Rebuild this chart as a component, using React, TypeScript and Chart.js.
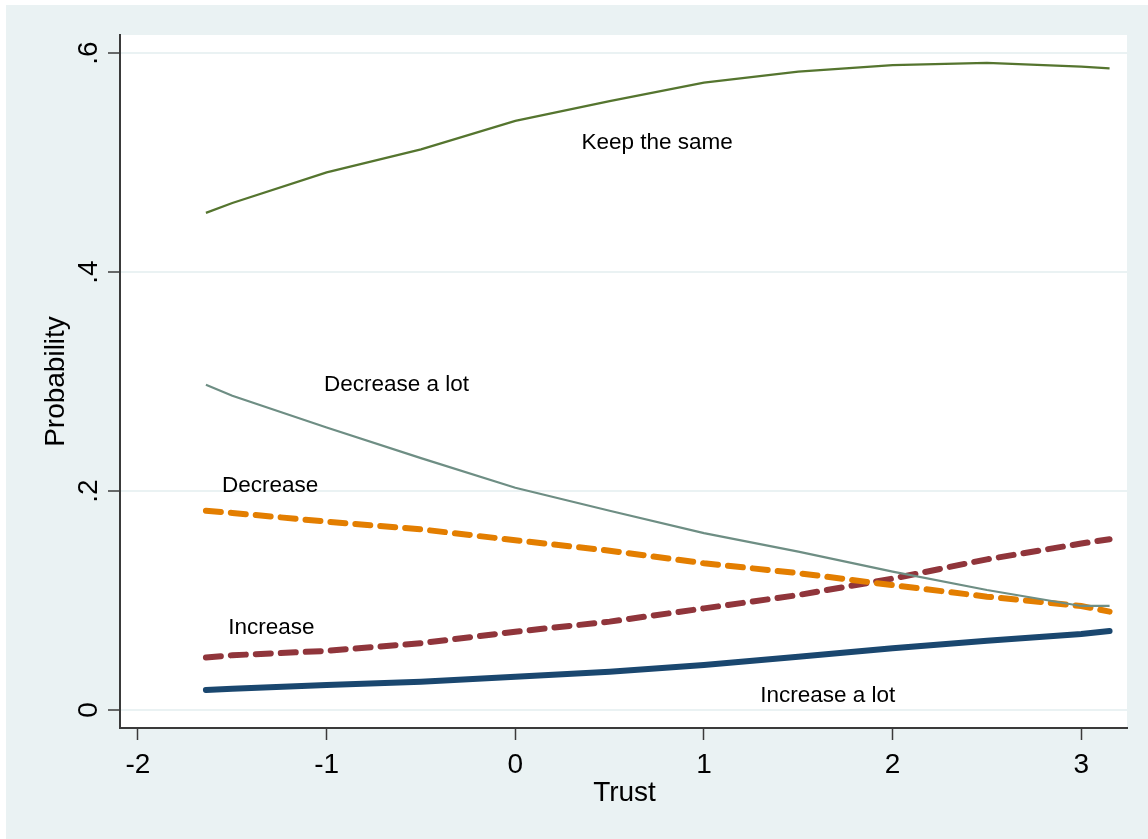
import React, { useEffect, useRef } from "react";
import { Chart, registerables } from "chart.js";

Chart.register(...registerables);

const trust = [-1.64, -1.5, -1, -0.5, 0, 0.5, 1, 1.5, 2, 2.5, 3, 3.15];
const keepSame = [0.454, 0.463, 0.491, 0.512, 0.538, 0.556, 0.573, 0.583, 0.589, 0.591, 0.5875, 0.586];
const decreaseALot = [0.297, 0.287, 0.258, 0.23, 0.203, 0.182, 0.1615, 0.1446, 0.1263, 0.1096, 0.095, 0.095];
const decrease = [0.182, 0.18, 0.172, 0.165, 0.155, 0.1455, 0.134, 0.125, 0.114, 0.1035, 0.095, 0.0898];
const increase = [0.048, 0.05, 0.054, 0.061, 0.0715, 0.0807, 0.0928, 0.105, 0.12, 0.1376, 0.152, 0.156];
const increaseALot = [0.0183, 0.0195, 0.0228, 0.0259, 0.0304, 0.035, 0.041, 0.0487, 0.0563, 0.0633, 0.0694, 0.0721];

const xTicks = [-2, -1, 0, 1, 2, 3];
const xTickLabels = ["-2", "-1", "0", "1", "2", "3"];
const yTicks = [0, 0.2, 0.4, 0.6];
const yTickLabels = ["0", ".2", ".4", ".6"];

const labelTexts = ["Keep the same", "Decrease a lot", "Decrease", "Increase", "Increase a lot"];
const labelX = [0.752, -0.63, -1.3, -1.293, 1.656];
const labelY = [0.518, 0.297, 0.2046, 0.0752, 0.0128];

const FONT = '"Liberation Sans", Arial, sans-serif';

const pts = (ys: number[]) => trust.map((x, i) => ({ x, y: ys[i] }));

export default function App() {
  const ref = useRef<HTMLCanvasElement | null>(null);
  useEffect(() => {
    document.body.style.margin = "0";
    const canvas = ref.current!;
    const bgPlugin = {
      id: "bg",
      beforeDraw(chart: any) {
        const { ctx, chartArea: a } = chart;
        ctx.save();
        ctx.fillStyle = "#ffffff";
        ctx.fillRect(0, 0, chart.width, chart.height);
        ctx.fillStyle = "#eaf2f3";
        ctx.fillRect(6, 5, chart.width - 6, chart.height - 5);
        ctx.fillStyle = "#ffffff";
        ctx.fillRect(a.left, a.top, a.right - a.left, a.bottom - a.top);
        ctx.restore();
      },
      afterDraw(chart: any) {
        const { ctx, chartArea: a } = chart;
        const xs = chart.scales.x;
        const ys = chart.scales.y;
        ctx.save();
        ctx.fillStyle = "#000";
        // x tick labels
        ctx.font = `28px ${FONT}`;
        ctx.textAlign = "center";
        ctx.textBaseline = "alphabetic";
        xTicks.forEach((v, i) => {
          ctx.fillText(xTickLabels[i], xs.getPixelForValue(v), 773);
        });
        // x title
        ctx.fillText("Trust", (a.left + a.right) / 2 + 1, 801);
        // y tick labels rotated
        yTicks.forEach((v, i) => {
          ctx.save();
          ctx.translate(97, ys.getPixelForValue(v));
          ctx.rotate(-Math.PI / 2);
          ctx.textAlign = "center";
          ctx.fillText(yTickLabels[i], 0, 0);
          ctx.restore();
        });
        // y title
        ctx.save();
        ctx.translate(64, (a.top + a.bottom) / 2);
        ctx.rotate(-Math.PI / 2);
        ctx.textAlign = "center";
        ctx.fillText("Probability", 0, 0);
        ctx.restore();
        // annotations
        ctx.font = `22.5px ${FONT}`;
        ctx.textAlign = "center";
        ctx.textBaseline = "middle";
        labelTexts.forEach((t, i) => {
          ctx.fillText(t, xs.getPixelForValue(labelX[i]), ys.getPixelForValue(labelY[i]));
        });
        ctx.restore();
      },
    };

    const chart = new Chart(canvas, {
      type: "line",
      data: {
        datasets: [
          {
            label: "Keep the same",
            data: pts(keepSame),
            borderColor: "#55752f",
            borderWidth: 2.2,
            pointRadius: 0,
            tension: 0,
          },
          {
            label: "Decrease a lot",
            data: pts(decreaseALot),
            borderColor: "#6e8e84",
            borderWidth: 2.2,
            pointRadius: 0,
            tension: 0,
          },
          {
            label: "Decrease",
            data: pts(decrease),
            borderColor: "#e37e00",
            borderWidth: 6,
            borderDash: [15, 10],
            borderCapStyle: "round",
            pointRadius: 0,
            tension: 0,
          },
          {
            label: "Increase",
            data: pts(increase),
            borderColor: "#90353b",
            borderWidth: 6,
            borderDash: [15, 10],
            borderCapStyle: "round",
            pointRadius: 0,
            tension: 0,
          },
          {
            label: "Increase a lot",
            data: pts(increaseALot),
            borderColor: "#1a476f",
            borderWidth: 6,
            borderCapStyle: "round",
            pointRadius: 0,
            tension: 0,
          },
        ],
      },
      options: {
        animation: false,
        responsive: false,
        events: [],
        layout: { padding: { left: 6, top: 35, right: 21, bottom: 0 } },
        plugins: { legend: { display: false }, tooltip: { enabled: false } },
        scales: {
          x: {
            type: "linear",
            min: -2.0954,
            max: 3.2424,
            afterBuildTicks: (s: any) => {
              s.ticks = xTicks.map((v) => ({ value: v }));
            },
            afterFit: (s: any) => {
              s.height = 111;
            },
            ticks: { display: false },
            grid: {
              drawOnChartArea: false,
              drawTicks: true,
              tickLength: 12,
              tickColor: "#3a3a3a",
              tickWidth: 1.5,
            },
            border: { display: true, color: "#3a3a3a", width: 2 },
          },
          y: {
            type: "linear",
            min: -0.01644,
            max: 0.61644,
            afterBuildTicks: (s: any) => {
              s.ticks = yTicks.map((v) => ({ value: v }));
            },
            afterFit: (s: any) => {
              s.width = 114;
            },
            ticks: { display: false },
            grid: {
              color: "#eaf2f3",
              lineWidth: 2,
              drawTicks: true,
              tickLength: 12,
              tickColor: "#3a3a3a",
              tickWidth: 1.5,
            },
            border: { display: true, color: "#3a3a3a", width: 2 },
          },
        },
      },
      plugins: [bgPlugin],
    });
    return () => chart.destroy();
  }, []);
  return (
    <div style={{ width: 1148, height: 839 }}>
      <canvas ref={ref} width={1148} height={839} style={{ display: "block" }} />
    </div>
  );
}
